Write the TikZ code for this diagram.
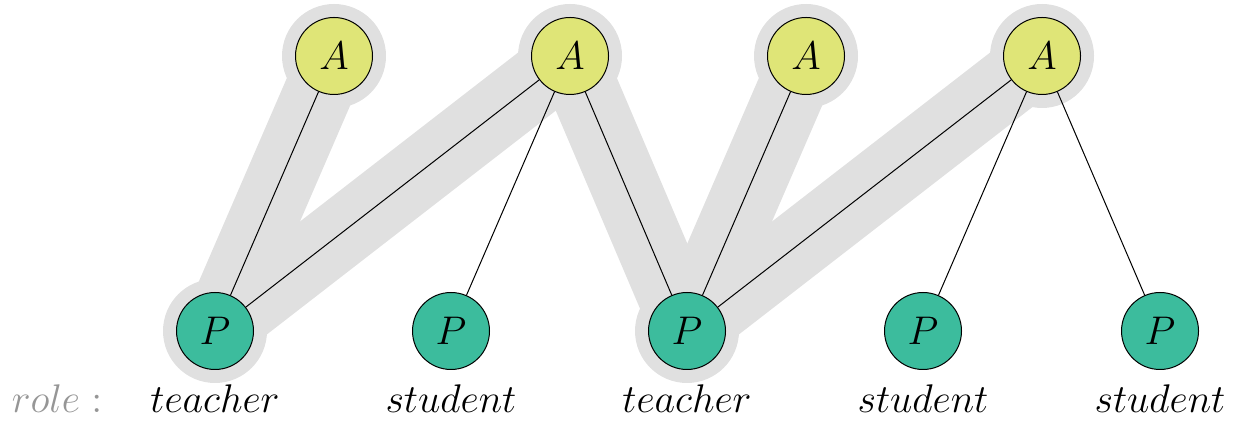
\documentclass[tikz,border=0pt]{standalone}
\begin{document}
\begin{tikzpicture}[x=0.3pt,y=-0.3pt,
  every node/.style={font=\fontsize{11.9pt}{14pt}\selectfont},
  anode/.style={circle,draw=black,line width=0.3pt,fill=ayel,minimum size=23.1pt,inner sep=0pt},
  pnode/.style={circle,draw=black,line width=0.3pt,fill=pgreen,minimum size=23.1pt,inner sep=0pt},
  edge/.style={draw=black,line width=0.3pt},
  hl/.style={draw=hlgray,line width=20.7pt,line cap=butt},
  lab/.style={anchor=base}]
\definecolor{ayel}{RGB}{223,229,119}
\definecolor{pgreen}{RGB}{60,188,157}
\definecolor{hlgray}{RGB}{224,224,224}
\definecolor{rolegray}{RGB}{150,150,150}
\useasboundingbox (0,0) rectangle (1240,426);
% positions
\coordinate (a1) at (334,56);
\coordinate (a2) at (570,56);
\coordinate (a3) at (806,56);
\coordinate (a4) at (1042,56);
\coordinate (p1) at (215,331);
\coordinate (p2) at (451,331);
\coordinate (p3) at (687,331);
\coordinate (p4) at (923,331);
\coordinate (p5) at (1160,331);
% highlight
\draw[hl] (a1) -- (p1);
\draw[hl] (p1) -- (a2);
\draw[hl] (a2) -- (p3);
\draw[hl] (p3) -- (a3);
\draw[hl] (p3) -- (a4);
\foreach \c in {a1,a2,a3,a4,p1,p3} \fill[hlgray] (\c) circle[radius=52];
% nodes
\node[anode] (A1) at (a1) {$A$};
\node[anode] (A2) at (a2) {$A$};
\node[anode] (A3) at (a3) {$A$};
\node[anode] (A4) at (a4) {$A$};
\node[pnode] (P1) at (p1) {$P$};
\node[pnode] (P2) at (p2) {$P$};
\node[pnode] (P3) at (p3) {$P$};
\node[pnode] (P4) at (p4) {$P$};
\node[pnode] (P5) at (p5) {$P$};
% edges
\draw[edge] (A1) -- (P1);
\draw[edge] (A2) -- (P1);
\draw[edge] (A2) -- (P2);
\draw[edge] (A2) -- (P3);
\draw[edge] (A3) -- (P3);
\draw[edge] (A4) -- (P3);
\draw[edge] (A4) -- (P4);
\draw[edge] (A4) -- (P5);
% labels
\node[lab,text=rolegray] (role) at (57,413) {$role:$};
\node[lab] (l1) at (215,413) {$teacher$};
\node[lab] (l2) at (451,413) {$student$};
\node[lab] (l3) at (687,413) {$teacher$};
\node[lab] (l4) at (923,413) {$student$};
\node[lab] (l5) at (1160,413) {$student$};
\end{tikzpicture}
\end{document}
